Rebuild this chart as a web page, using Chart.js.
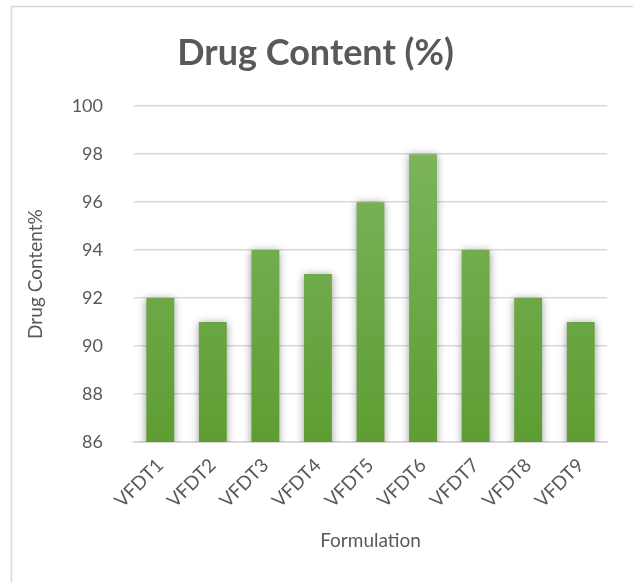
<!DOCTYPE html>
<html>
<head>
<meta charset="utf-8">
<script src="https://cdn.jsdelivr.net/npm/chart.js@4/dist/chart.umd.min.js"></script>
<style>
  html, body { margin: 0; padding: 0; background: #fff; }
  #wrap { position: relative; width: 633px; height: 582px; }
</style>
</head>
<body>
<div id="wrap"><canvas id="barChart" width="633" height="582"></canvas></div>
<script>
var formulations = ['VFDT1', 'VFDT2', 'VFDT3', 'VFDT4', 'VFDT5', 'VFDT6', 'VFDT7', 'VFDT8', 'VFDT9'];
var drugContent = [92, 91, 94, 93, 96, 98, 94, 92, 91];
var yTicks = [86, 88, 90, 92, 94, 96, 98, 100];

var grey = '#595959';
var fontName = 'Lato, "Open Sans", sans-serif';

function barFill(context) {
  var chart = context.chart;
  var area = chart.chartArea;
  if (!area) return '#70ad47';
  var g = chart.ctx.createLinearGradient(0, area.top, 0, area.bottom);
  g.addColorStop(0, '#80b862');
  g.addColorStop(1, '#5e9d33');
  return g;
}

// outer frame of the chart box (only left and top edges are in the picture)
var framePlugin = {
  id: 'frame',
  beforeDraw: function(chart) {
    var ctx = chart.ctx;
    ctx.save();
    ctx.strokeStyle = '#d9d9d9';
    ctx.lineWidth = 1.5;
    ctx.beginPath();
    ctx.moveTo(11.5, 582);
    ctx.lineTo(11.5, 6.5);
    ctx.lineTo(633, 6.5);
    ctx.stroke();
    ctx.restore();
  }
};

var shadowPlugin = {
  id: 'barShadow',
  beforeDatasetsDraw: function(chart) {
    var ctx = chart.ctx;
    ctx.save();
    ctx.shadowColor = 'rgba(0,0,0,0.4)';
    ctx.shadowBlur = 8;
    ctx.shadowOffsetX = 0;
    ctx.shadowOffsetY = 1;
  },
  afterDatasetsDraw: function(chart) {
    chart.ctx.restore();
  }
};

function printChart() {
  var ctx = document.getElementById('barChart');
  new Chart(ctx, {
    type: 'bar',
    data: {
      labels: formulations,
      datasets: [{
        label: 'Drug Content%',
        data: drugContent,
        backgroundColor: barFill,
        borderWidth: 0,
        categoryPercentage: 1,
        barPercentage: 0.53
      }]
    },
    options: {
      responsive: false,
      animation: false,
      layout: { padding: { left: 24, right: 26, top: 0, bottom: 30 } },
      plugins: {
        legend: { display: false },
        tooltip: { enabled: false },
        title: {
          display: true,
          text: 'Drug Content (%)',
          color: grey,
          font: { family: fontName, size: 36, weight: 'bold' },
          padding: { top: 32, bottom: 31 }
        }
      },
      scales: {
        x: {
          grid: { display: false },
          border: { color: '#d9d9d9', width: 2 },
          ticks: {
            color: grey,
            font: { family: fontName, size: 19 },
            minRotation: 45,
            maxRotation: 45,
            padding: 4
          },
          title: {
            display: true,
            text: 'Formulation',
            color: grey,
            font: { family: fontName, size: 19 },
            padding: { top: 12, bottom: 0 }
          },
          afterFit: function(scale) { scale.height = 110; }
        },
        y: {
          min: 86,
          max: 100,
          afterBuildTicks: function(scale) {
            scale.ticks = yTicks.map(function(v) { return { value: v }; });
          },
          grid: { color: '#d9d9d9', lineWidth: 1.5, drawTicks: false },
          border: { display: false },
          ticks: {
            color: grey,
            font: { family: fontName, size: 18 },
            padding: 31
          },
          title: {
            display: true,
            text: 'Drug Content%',
            color: grey,
            font: { family: fontName, size: 19 },
            padding: { top: 0, bottom: 10 }
          },
          afterFit: function(scale) { scale.width = 110; }
        }
      }
    },
    plugins: [framePlugin, shadowPlugin]
  });
}

printChart();
</script>
</body>
</html>
